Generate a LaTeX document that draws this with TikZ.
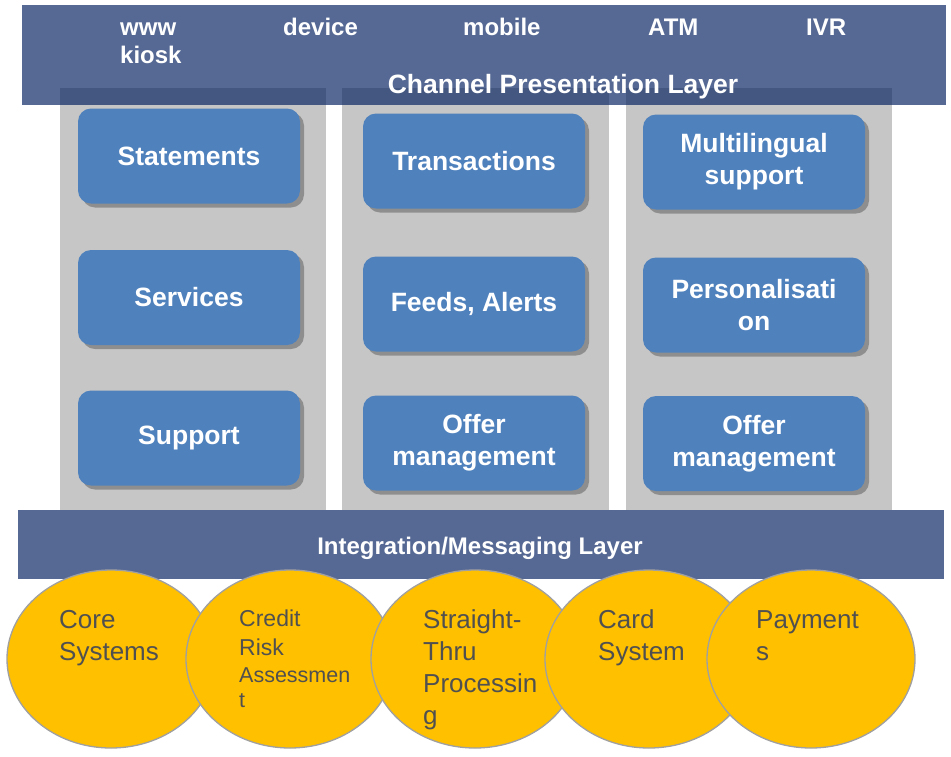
\documentclass[tikz,border=0pt]{standalone}
\usepackage{fontspec}
\setmainfont{Liberation Sans}
\usetikzlibrary{shapes.geometric,shadows}
\definecolor{bannerblue}{HTML}{566994}
\definecolor{overlapblue}{HTML}{445780}
\definecolor{colgray}{HTML}{C6C6C6}
\definecolor{boxblue}{HTML}{4F81BD}
\definecolor{ellfill}{HTML}{FFC000}
\definecolor{ellline}{HTML}{A0A0A0}
\definecolor{elltext}{HTML}{505050}
\newcommand{\mylines}[1]{\begin{tabular}[t]{@{}l@{}}#1\end{tabular}}
\tikzset{
  bannerbox/.style={fill=bannerblue},
  colbox/.style={fill=colgray},
  overlapbox/.style={fill=overlapblue},
  bluebox/.style={rounded corners=13pt, fill=boxblue, minimum width=222pt, minimum height=95pt,
    text=white, align=center, inner sep=2pt,
    font=\bfseries\fontsize{26.5}{32}\selectfont,
    drop shadow={shadow xshift=4pt, shadow yshift=-4pt, fill=black, opacity=0.28}},
  chantext/.style={text=white, inner sep=0pt, anchor=base west, font=\bfseries\fontsize{24}{28}\selectfont},
  layertext/.style={text=white, inner sep=0pt, anchor=base, font=\bfseries\fontsize{#1}{#1}\selectfont},
  sysell/.style={ellipse, fill=ellfill, draw=ellline, line width=1.3pt, minimum width=208pt, minimum height=178pt, inner sep=0pt},
  systext/.style={text=elltext, inner sep=0pt, anchor=base west, font=\fontsize{26}{32}\selectfont},
}
\begin{document}
\begin{tikzpicture}[x=1pt,y=-1pt]
\useasboundingbox (0,0) rectangle (951,756);
\fill[white] (0,0) rectangle (951,756);
% top banner
\fill[bannerbox] (22,5) rectangle (946,105);
% columns
\fill[colbox] (60,88) rectangle (326,512);
\fill[colbox] (342,88) rectangle (609,512);
\fill[colbox] (626,88) rectangle (892,512);
\fill[overlapbox] (60,88) rectangle (326,105);
\fill[overlapbox] (342,88) rectangle (609,105);
\fill[overlapbox] (626,88) rectangle (892,105);
% banner texts
\node[chantext] (www) at (120,35) {www};
\node[chantext] (kiosk) at (120,63) {kiosk};
\node[chantext] (device) at (283,35) {device};
\node[chantext] (mobile) at (463,35) {mobile};
\node[chantext] (atm) at (648,35) {ATM};
\node[chantext] (ivr) at (806,35) {IVR};
\node[layertext=26.5] (cpl) at (563,93) {Channel Presentation Layer};
% blue boxes
\node[bluebox] (statements) at (189,156) {Statements};
\node[bluebox] (services) at (189,297.5) {Services};
\node[bluebox] (support) at (189,438) {Support};
\node[bluebox] (transactions) at (474,161) {Transactions};
\node[bluebox] (feeds) at (474,304) {Feeds, Alerts};
\node[bluebox] (offer1) at (474,443) {Offer\\management};
\node[bluebox] (multi) at (754,162) {Multilingual\\support};
\node[bluebox] (pers) at (754,305) {Personalisati\\on};
\node[bluebox] (offer2) at (754,443.5) {Offer\\management};
% integration band
\fill[bannerbox] (18,510) rectangle (944,579);
\node[layertext=24] (iml) at (480,554) {Integration/Messaging Layer};
% ellipses
\node[sysell] (core) at (111,659) {};
\node[sysell] (credit) at (290,659) {};
\node[sysell] (stp) at (475,659) {};
\node[sysell] (card) at (649,659) {};
\node[sysell] (pay) at (811,659) {};
% ellipse texts
\node[systext] (coret) at (59,628) {\mylines{Core\\Systems}};
\node[systext, font=\fontsize{23}{29}\selectfont] (creditt) at (239,626)
  {\mylines{Credit\\Risk\\[-2pt]{\fontsize{21.5}{25}\selectfont Assessmen}\\[-4pt]{\fontsize{21.5}{25}\selectfont t}}};
\node[systext] (stpt) at (423,628) {\mylines{Straight-\\Thru\\Processin\\g}};
\node[systext] (cardt) at (598,628) {\mylines{Card\\System}};
\node[systext] (payt) at (756,628) {\mylines{Payment\\s}};
\end{tikzpicture}
\end{document}
